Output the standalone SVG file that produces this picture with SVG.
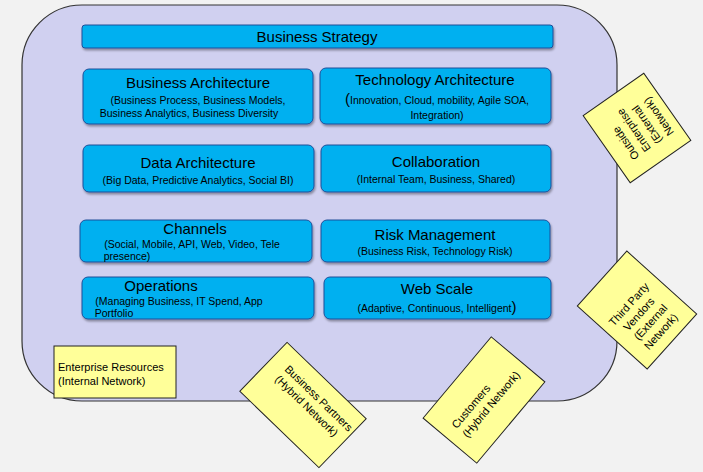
<svg xmlns="http://www.w3.org/2000/svg" width="703" height="472" viewBox="0 0 703 472">
<defs>
<filter id="sh" x="-10%" y="-10%" width="120%" height="130%"><feDropShadow dx="1" dy="2" stdDeviation="1.2" flood-color="#000" flood-opacity="0.35"/></filter>
<style>
.b{fill:#00b0f0;stroke:#1f4e9a;stroke-width:1;filter:url(#sh)}
.y{fill:#ffff99;stroke:#222;stroke-width:1}
text{font-family:"Liberation Sans",Arial,sans-serif;fill:#000}
.t{font-size:15px;text-anchor:middle}
.s{font-size:10.5px;text-anchor:middle}
.n{font-size:11px}
</style>
</defs>
<rect width="703" height="472" fill="#f2f2f2"/>
<rect x="22" y="5" width="595" height="396" rx="60" fill="#d0d0f0" stroke="#333" stroke-width="1.2"/>
<g id="strategy"><rect class="b" x="82" y="25" width="471" height="23" rx="3"/><text class="t" x="317" y="42">Business Strategy</text></g>
<g id="busarch"><rect class="b" x="83" y="69" width="230" height="55" rx="6"/><text class="t" x="198" y="88">Business Architecture</text><text class="s" x="198" y="104">(Business Process, Business Models,</text><text class="s" x="189" y="117">Business Analytics, Business Diversity</text></g>
<g id="techarch"><rect class="b" x="320" y="68" width="231" height="56" rx="6"/><text class="t" x="435" y="85">Technology Architecture</text><text class="s" x="437" y="104"><tspan font-size="15">(</tspan>Innovation, Cloud, mobility, Agile SOA,</text><text class="s" x="437" y="119">Integration)</text></g>
<g id="dataarch"><rect class="b" x="83" y="145" width="231" height="47" rx="6"/><text class="t" x="198" y="168">Data Architecture</text><text class="s" x="198" y="184">(Big Data, Predictive Analytics, Social BI)</text></g>
<g id="collab"><rect class="b" x="321" y="145" width="230" height="47" rx="6"/><text class="t" x="436" y="167">Collaboration</text><text class="s" x="436" y="183">(Internal Team, Business, Shared)</text></g>
<g id="channels"><rect class="b" x="80" y="220" width="232" height="42" rx="6"/><text class="t" x="195" y="234">Channels</text><text class="s" x="192" y="248">(Social, Mobile, API, Web, Video, Tele</text><text class="s" x="127" y="260">presence)</text></g>
<g id="risk"><rect class="b" x="321" y="220" width="229" height="42" rx="6"/><text class="t" x="435" y="240">Risk Management</text><text class="s" x="435" y="255">(Business Risk, Technology Risk)</text></g>
<g id="ops"><rect class="b" x="82" y="277" width="232" height="42" rx="6"/><text class="t" x="161" y="291">Operations</text><text class="s" x="179" y="305">(Managing Business, IT Spend, App</text><text class="s" x="114" y="317">Portfolio</text></g>
<g id="webscale"><rect class="b" x="324" y="277" width="227" height="42" rx="6"/><text class="t" x="437" y="294">Web Scale</text><text class="s" x="437" y="312">(Adaptive, Continuous, Intelligent<tspan font-size="15">)</tspan></text></g>
<g id="enterprise"><rect class="y" x="54" y="346" width="122" height="52"/><text class="n" x="58" y="371">Enterprise Resources</text><text class="n" x="58" y="385">(Internal Network)</text></g>
<g id="partners" transform="translate(303,405) rotate(44)"><rect class="y" x="-55" y="-34" width="110" height="68"/><text class="n" x="-38" y="-12">Business  Partners</text><text class="n" x="-38" y="2">(Hybrid Network)</text></g>
<g id="customers" transform="translate(484,400) rotate(-50)"><rect class="y" x="-53" y="-35" width="106" height="70"/><text class="n" x="-40" y="-2">Customers</text><text class="n" x="-40" y="12">(Hybrid Network)</text></g>
<g id="vendors" transform="translate(637,310) rotate(-48)"><rect class="y" x="-37" y="-47" width="74" height="94"/><text class="n" x="-28" y="-6">Third Party</text><text class="n" x="-22" y="8">Vendors</text><text class="n" x="-22" y="22">(External</text><text class="n" x="-22" y="36">Network)</text></g>
<g id="outside" transform="translate(637,128) rotate(-125)"><rect class="y" x="-41" y="-37" width="82" height="74"/><text class="n" x="-25" y="-14">Outside</text><text class="n" x="-25" y="0">Enterprise</text><text class="n" x="-25" y="14">(External</text><text class="n" x="-25" y="28">Network)</text></g>
<g id="connectors"/>
</svg>
